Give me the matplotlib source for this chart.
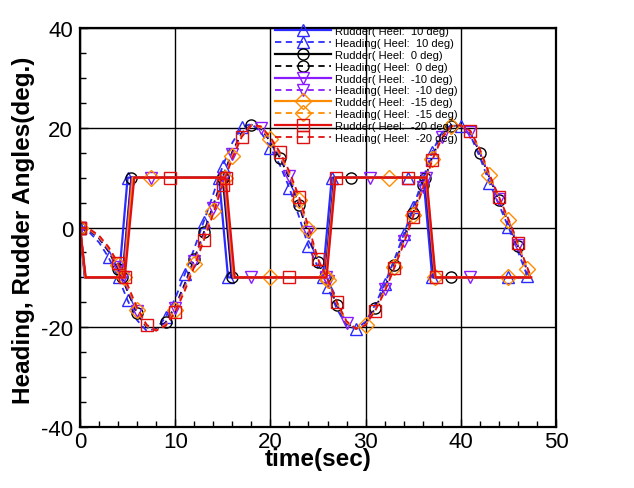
import matplotlib
matplotlib.use('Agg')
import matplotlib.pyplot as plt
from matplotlib.ticker import MultipleLocator
import numpy as np

plt.rcParams['font.family'] = ['Liberation Sans', 'DejaVu Sans']
plt.rcParams['axes.unicode_minus'] = False

heels = ['10', '0', '-10', '-15', '-20']
colors = ['#2b2bff', '#000000', '#8a1aff', '#ff8c00', '#e01010']
markers = ['^', 'o', 'v', 'D', 's']

# heading angle, read every second from t = 0 to 47 s
t_head = np.arange(0, 48)
heading_10 = [0, -1.0, -3.0, -6.0, -9.9, -14.6, -18.6, -20.7, -20.3, -18.0,
              -14.2, -9.4, -4.2, 1.2, 6.7, 12.4, 17.0, 20.1, 20.8, 19.1,
              16.0, 12.5, 7.9, 2.2, -3.8, -8.0, -11.9, -16.4, -19.7, -20.3,
              -18.9, -15.5, -11.3, -6.5, -1.4, 4.1, 9.6, 15.2, 19.0, 20.6,
              20.3, 18.5, 14.1, 9.0, 4.6, 0.1, -4.8, -9.8]
heading_0 = [0, -0.6, -2.2, -4.8, -8.3, -12.8, -17.2, -20.0, -20.5, -19.0,
             -15.8, -11.3, -6.3, -1.0, 4.5, 10.2, 15.2, 19.0, 20.6, 19.8,
             17.2, 14.0, 9.8, 4.5, -1.5, -7.0, -11.0, -15.6, -19.2, -20.3,
             -19.3, -16.2, -12.2, -7.5, -2.5, 3.0, 8.5, 14.2, 18.4, 20.4,
             20.4, 19.0, 15.0, 10.0, 5.5, 1.0, -3.8, -8.8]
heading_m10 = [0, -0.5, -2.0, -4.5, -7.9, -12.4, -16.8, -19.8, -20.6, -19.2,
               -16.2, -11.8, -6.8, -1.5, 3.9, 9.7, 14.8, 18.7, 20.6, 20.0,
               17.5, 14.4, 10.3, 5.1, -0.9, -6.8, -10.8, -15.4, -19.1, -20.3,
               -19.4, -16.4, -12.4, -7.8, -2.8, 2.7, 8.2, 14.0, 18.2, 20.3,
               20.4, 19.1, 15.2, 10.2, 5.7, 1.2, -3.6, -8.6]
heading_m15 = [0, -0.4, -1.8, -4.2, -7.5, -11.9, -16.5, -19.7, -20.6, -19.5,
               -16.6, -12.3, -7.3, -2.1, 3.4, 9.1, 14.3, 18.5, 20.5, 20.1,
               17.8, 14.7, 10.8, 5.6, -0.3, -6.5, -10.6, -15.2, -19.0, -20.3,
               -19.5, -16.6, -12.6, -8.0, -3.0, 2.5, 7.9, 13.7, 18.1, 20.3,
               20.5, 19.3, 15.5, 10.5, 6.0, 1.5, -3.3, -8.3]
heading_m20 = [0, -0.3, -1.6, -3.9, -7.1, -11.5, -16.1, -19.5, -20.7, -19.7,
               -17.0, -12.7, -7.9, -2.6, 2.8, 8.6, 13.9, 18.2, 20.5, 20.3,
               18.1, 15.1, 11.2, 6.2, 0.2, -6.3, -10.4, -15.0, -18.8, -20.3,
               -19.6, -16.7, -12.9, -8.2, -3.3, 2.2, 7.7, 13.5, 17.9, 20.3,
               20.5, 19.4, 15.7, 10.7, 6.2, 1.7, -3.1, -8.1]
head_end_t = [47.05, 47.3, 47.3, 47.35, 47.4]
head_end_v = [-10.0, -10.2, -10.1, -10.0, -10.0]

# rudder angle (time, deg)
rudder_10 = [(0, 0), (0.5, -10), (2, -10), (4.1, -10), (5.0, 10), (7, 10), (9, 10),
             (11, 10), (13, 10), (14.6, 10), (15.55, -10), (17.5, -10), (19.5, -10),
             (21.5, -10), (23.5, -10), (25.5, -10), (26.45, 10), (28.5, 10), (30.5, 10),
             (32.5, 10), (34.5, 10), (36.07, 10), (37.0, -10), (39, -10), (41, -10),
             (43, -10), (45, -10), (47.05, -10)]
rudder_0 = [(0, 0), (0.55, -10), (2.5, -10), (4.45, -10), (5.4, 10), (7.5, 10), (9.5, 10),
            (11.5, 10), (13.5, 10), (15.0, 10), (15.95, -10), (18, -10), (20, -10),
            (22, -10), (24, -10), (25.75, -10), (26.7, 10), (28.5, 10), (30.5, 10),
            (32.5, 10), (34.5, 10), (36.26, 10), (37.2, -10), (39, -10), (41, -10),
            (43, -10), (45, -10), (47.3, -10)]
rudder_m10 = [(0, 0), (0.55, -10), (2.5, -10), (4.5, -10), (5.45, 10), (7.5, 10), (9.5, 10),
              (11.5, 10), (13.5, 10), (15.1, 10), (16.05, -10), (18, -10), (20, -10),
              (22, -10), (24, -10), (25.8, -10), (26.75, 10), (28.5, 10), (30.5, 10),
              (32.5, 10), (34.5, 10), (36.3, 10), (37.25, -10), (39, -10), (41, -10),
              (43, -10), (45, -10), (47.3, -10)]
rudder_m15 = [(0, 0), (0.55, -10), (2.5, -10), (4.6, -10), (5.55, 10), (7.5, 10), (9.5, 10),
              (11.5, 10), (13.5, 10), (15.2, 10), (16.15, -10), (18, -10), (20, -10),
              (22, -10), (24, -10), (25.85, -10), (26.8, 10), (28.5, 10), (30.5, 10),
              (32.5, 10), (34.5, 10), (36.36, 10), (37.3, -10), (39, -10), (41, -10),
              (43, -10), (45, -10), (47.35, -10)]
rudder_m20 = [(0, 0), (0.6, -10), (2.5, -10), (4.7, -10), (5.7, 10), (7.5, 10), (9.5, 10),
              (11.5, 10), (13.5, 10), (15.3, 10), (16.25, -10), (18, -10), (20, -10),
              (22, -10), (24, -10), (25.9, -10), (26.85, 10), (28.5, 10), (30.5, 10),
              (32.5, 10), (34.5, 10), (36.4, 10), (37.35, -10), (39, -10), (41, -10),
              (43, -10), (45, -10), (47.4, -10)]

headings = [heading_10, heading_0, heading_m10, heading_m15, heading_m20]
rudders = [rudder_10, rudder_0, rudder_m10, rudder_m15, rudder_m20]

fig = plt.figure(figsize=(6.34, 4.89), dpi=100)
ax = fig.add_axes([0.1262, 0.1247, 0.7508, 0.816])

for i in range(5):
    rt = [p[0] for p in rudders[i]]
    rv = [p[1] for p in rudders[i]]
    ax.plot(rt, rv, color=colors[i], lw=1.6, marker=markers[i], ms=8,
            mfc='none', mew=1.0, markevery=(0.0, 0.15 + 0.006 * i),
            label='Rudder( Heel:  %s deg)' % heels[i])
    ht = list(t_head) + [head_end_t[i]]
    hv = list(headings[i]) + [head_end_v[i]]
    ax.plot(ht, hv, color=colors[i], lw=1.3, ls=(0, (3.5, 2.5)), marker=markers[i],
            ms=8, mfc='none', mew=1.0, markevery=(0.0, 0.08 + 0.003 * i),
            label='Heading( Heel:  %s deg)' % heels[i])

ax.set_xlim(0, 50)
ax.set_ylim(-40, 40)
ax.set_xticks([0, 10, 20, 30, 40, 50])
ax.set_yticks([-40, -20, 0, 20, 40])
ax.xaxis.set_minor_locator(MultipleLocator(2))
ax.yaxis.set_minor_locator(MultipleLocator(5))
ax.tick_params(which='both', direction='in', top=False, right=False, labelsize=16)
ax.tick_params(which='major', length=6, width=1)
ax.tick_params(which='minor', length=4, width=1)
ax.tick_params(axis='x', pad=3)
ax.tick_params(axis='y', pad=5)
ax.grid(True, which='major', color='black', lw=1)
for s in ax.spines.values():
    s.set_linewidth(1.6)

ax.set_xlabel('time(sec)', fontsize=17.5, fontweight='bold')
ax.xaxis.set_label_coords(0.5, -0.078)
ax.xaxis.label.set_va('center')
ax.set_ylabel('Heading, Rudder Angles(deg.)', fontsize=17.5, fontweight='bold')
ax.yaxis.set_label_coords(-0.118, 0.495)
ax.yaxis.label.set_va('center')

ax.legend(loc='upper left', bbox_to_anchor=(0.41, 1.005), frameon=False,
          fontsize=8, handlelength=5.0, labelspacing=0.17, borderpad=0,
          borderaxespad=0, handletextpad=0.4)

fig.savefig('out.png', dpi=100)
